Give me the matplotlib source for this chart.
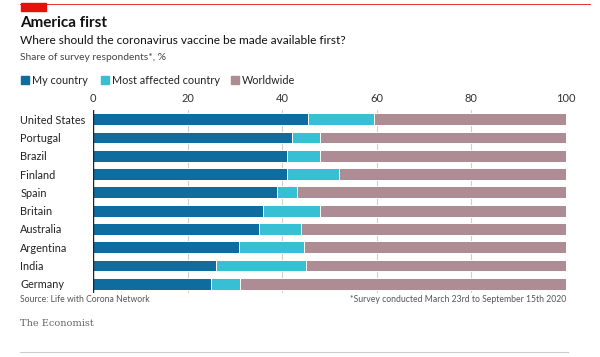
import numpy as np
import matplotlib.pyplot as plt
from matplotlib.patches import Rectangle
from matplotlib.lines import Line2D

plt.rcParams['font.family'] = ['Lato', 'DejaVu Sans']

# data
countries = ['United States', 'Portugal', 'Brazil', 'Finland', 'Spain',
             'Britain', 'Australia', 'Argentina', 'India', 'Germany']
my_country = [45.5, 42.0, 41.0, 41.0, 39.0, 36.0, 35.0, 30.8, 26.0, 25.0]
most_affected = [14.0, 6.0, 7.0, 11.0, 4.1, 12.0, 9.0, 13.8, 19.1, 6.1]
worldwide = [100 - a - b for a, b in zip(my_country, most_affected)]
series_names = ['My country', 'Most affected country', 'Worldwide']
colors = ['#0e6c9e', '#37bfd4', '#ae8c94']

W, H = 600, 357
fig = plt.figure(figsize=(W / 100, H / 100), dpi=100)

def fx(px):
    return px / W

def fy(py):
    return 1 - py / H

ax = fig.add_axes([fx(93), fy(293), fx(566) - fx(93), fy(110) - fy(293)])

y = np.arange(len(countries))
left = np.zeros(len(countries))
for vals, col in zip([my_country, most_affected, worldwide], colors):
    ax.barh(y, vals, left=left, height=0.64, color=col,
            edgecolor='white', linewidth=0.7, zorder=3)
    left = left + np.array(vals)

ax.set_xlim(0, 100)
ax.set_ylim(len(countries) - 0.5, -0.5)
ax.set_xticks([0, 20, 40, 60, 80, 100])
ax.xaxis.tick_top()
ax.tick_params(axis='x', length=0, pad=4, labelsize=8, labelcolor='#333333')
ax.grid(axis='x', color='#d0d0d0', linewidth=0.8, zorder=0)
ax.axvline(0, color='#222222', linewidth=1.0, zorder=4)
for s in ax.spines.values():
    s.set_visible(False)

ax.set_yticks(y)
ax.set_yticklabels(countries)
ax.tick_params(axis='y', length=0, pad=52.5, labelsize=7.8, labelcolor='#222222')
for lab in ax.get_yticklabels():
    lab.set_horizontalalignment('left')

# top red decorations
fig.add_artist(Line2D([fx(20), fx(590)], [fy(3.5), fy(3.5)], color='#e3120b',
                      linewidth=0.6))
fig.add_artist(Rectangle((fx(21), fy(11)), fx(46) - fx(21), fy(3) - fy(11),
                         color='#e3120b', transform=fig.transFigure))

fig.text(fx(20), fy(23), 'America first', fontsize=11, fontweight='bold',
         color='#111111', va='center')
fig.text(fx(20), fy(41), 'Where should the coronavirus vaccine be made available first?',
         fontsize=8.6, color='#111111', va='center')
fig.text(fx(20), fy(57), 'Share of survey respondents*, %', fontsize=7.4,
         color='#444444', va='center')

# legend
leg_x = [20, 100, 230]
for xp, name, col in zip(leg_x, series_names, colors):
    fig.add_artist(Rectangle((fx(xp + 1), fy(84)), fx(8), fy(0) - fy(8),
                             color=col, transform=fig.transFigure))
    fig.text(fx(xp + 12), fy(80), name, fontsize=7.8, color='#222222',
             va='center')

fig.text(fx(20), fy(300), 'Source: Life with Corona Network', fontsize=6.2,
         color='#555555', va='center')
fig.text(fx(566), fy(300), '*Survey conducted March 23rd to September 15th 2020',
         fontsize=6.2, color='#555555', va='center', ha='right')
fig.text(fx(20), fy(324), 'The Economist', fontsize=7, color='#666666',
         va='center', family=['DejaVu Serif'])
fig.add_artist(Line2D([fx(20), fx(568)], [fy(352), fy(352)], color='#cccccc',
                      linewidth=0.8))

fig.savefig('out.png', dpi=100)
